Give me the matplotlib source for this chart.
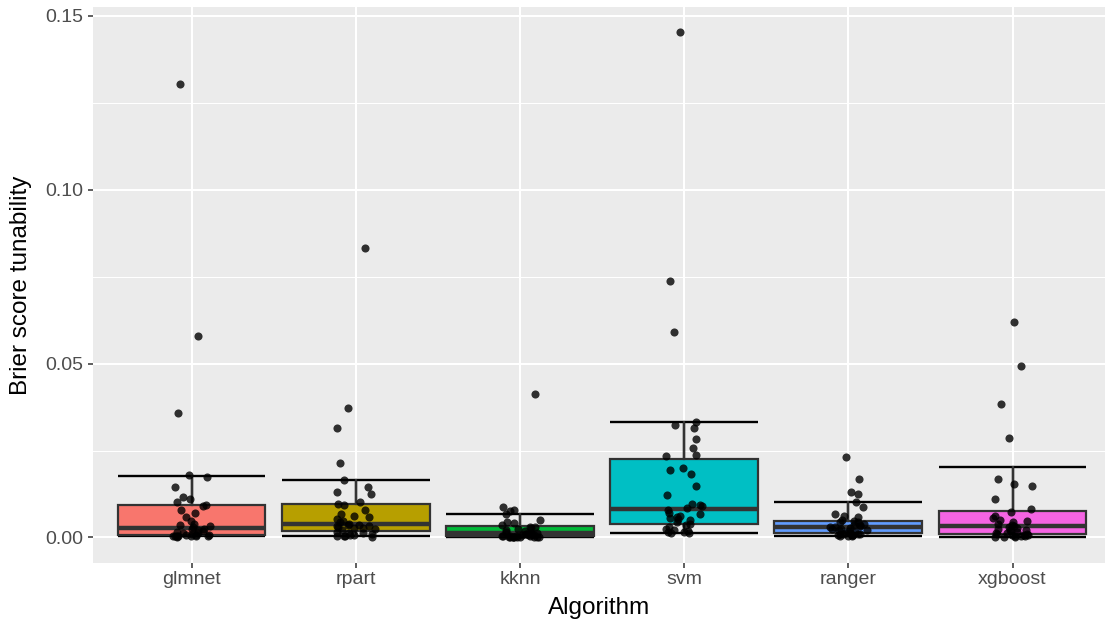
import numpy as np
import matplotlib
matplotlib.use("Agg")
import matplotlib.pyplot as plt

plt.rcParams["font.family"] = ["Liberation Sans", "DejaVu Sans"]

# ── Data ──────────────────────────────────────────────────────────────────────

algorithms = ["glmnet", "rpart", "kknn", "svm", "ranger", "xgboost"]
fills = ["#F8766D", "#B79F00", "#00BA38", "#00BFC4", "#619CFF", "#F564E3"]

# box statistics per algorithm
whis_lo = [0.0004, 0.0005, 0.0000, 0.0012, 0.0004, 0.0001]
q1      = [0.0008, 0.0018, 0.0004, 0.0040, 0.0013, 0.0011]
medians = [0.0027, 0.0038, 0.0012, 0.0083, 0.0031, 0.0033]
q3      = [0.0092, 0.0095, 0.0033, 0.0225, 0.0048, 0.0076]
whis_hi = [0.0178, 0.0166, 0.0068, 0.0331, 0.0102, 0.0204]

# per-dataset tunability values
glmnet_vals = [0.0002, 0.0003, 0.0003, 0.0004, 0.0004, 0.0005, 0.0005, 0.0005,
               0.0006, 0.0006, 0.0008, 0.0010, 0.0012, 0.0014, 0.0016, 0.0018,
               0.0021, 0.0023, 0.0025, 0.0029, 0.0033, 0.0036, 0.0040, 0.0048,
               0.0059, 0.0069, 0.0078, 0.0091, 0.0093, 0.0102, 0.0110, 0.0115,
               0.0145, 0.0175, 0.0179, 0.0358, 0.0580, 0.1304]
rpart_vals = [0.0002, 0.0003, 0.0004, 0.0005, 0.0006, 0.0008, 0.0010, 0.0012,
              0.0014, 0.0017, 0.0021, 0.0024, 0.0026, 0.0028, 0.0030, 0.0032,
              0.0034, 0.0036, 0.0037, 0.0040, 0.0043, 0.0048, 0.0052, 0.0058,
              0.0063, 0.0068, 0.0078, 0.0094, 0.0095, 0.0102, 0.0124, 0.0131,
              0.0145, 0.0166, 0.0214, 0.0316, 0.0373, 0.0833]
kknn_vals = [0.0000, 0.0000, 0.0001, 0.0001, 0.0001, 0.0001, 0.0002, 0.0002,
             0.0002, 0.0002, 0.0003, 0.0003, 0.0004, 0.0004, 0.0005, 0.0006,
             0.0007, 0.0008, 0.0009, 0.0011, 0.0012, 0.0014, 0.0016, 0.0018,
             0.0020, 0.0023, 0.0026, 0.0030, 0.0031, 0.0035, 0.0041, 0.0045,
             0.0049, 0.0068, 0.0076, 0.0079, 0.0088, 0.0413]
svm_vals = [0.0012, 0.0013, 0.0015, 0.0017, 0.0019, 0.0022, 0.0025, 0.0030,
            0.0035, 0.0039, 0.0043, 0.0049, 0.0053, 0.0056, 0.0060, 0.0063,
            0.0066, 0.0070, 0.0080, 0.0086, 0.0090, 0.0092, 0.0095, 0.0121,
            0.0148, 0.0181, 0.0193, 0.0200, 0.0235, 0.0236, 0.0256, 0.0283,
            0.0315, 0.0323, 0.0331, 0.0592, 0.0739, 0.1453]
ranger_vals = [0.0003, 0.0004, 0.0005, 0.0006, 0.0007, 0.0008, 0.0009, 0.0010,
               0.0010, 0.0011, 0.0012, 0.0014, 0.0016, 0.0018, 0.0020, 0.0021,
               0.0023, 0.0025, 0.0027, 0.0029, 0.0031, 0.0033, 0.0035, 0.0037,
               0.0040, 0.0043, 0.0045, 0.0048, 0.0050, 0.0058, 0.0063, 0.0068,
               0.0087, 0.0102, 0.0126, 0.0131, 0.0169, 0.0232]
xgboost_vals = [0.0001, 0.0002, 0.0003, 0.0004, 0.0005, 0.0006, 0.0007, 0.0008,
                0.0009, 0.0010, 0.0012, 0.0014, 0.0016, 0.0018, 0.0020, 0.0022,
                0.0025, 0.0028, 0.0030, 0.0034, 0.0037, 0.0040, 0.0044, 0.0046,
                0.0049, 0.0055, 0.0063, 0.0073, 0.0083, 0.0110, 0.0147, 0.0155,
                0.0169, 0.0285, 0.0384, 0.0493, 0.0620, 0.0002]

values = [glmnet_vals, rpart_vals, kknn_vals, svm_vals, ranger_vals, xgboost_vals]

y_ticks = [0.00, 0.05, 0.10, 0.15]
y_minor = [0.025, 0.075, 0.125]

# ── Figure ────────────────────────────────────────────────────────────────────

GREY20 = "#333333"
GREY30 = "#4D4D4D"
PANEL = "#EBEBEB"

fig = plt.figure(figsize=(11.05, 6.25), dpi=100)
ax = fig.add_axes([93 / 1105, 62.3 / 625, 1012 / 1105, 555.7 / 625])
ax.set_facecolor(PANEL)
for s in ax.spines.values():
    s.set_visible(False)

pos = np.arange(1, len(algorithms) + 1)
width = 0.9

# grid
for y in y_minor:
    ax.axhline(y, color="white", lw=0.75, zorder=0)
for y in y_ticks:
    ax.axhline(y, color="white", lw=1.5, zorder=0)
for x in pos:
    ax.axvline(x, color="white", lw=1.5, zorder=0)

# errorbar-style whiskers (black), drawn under the boxes
ax.vlines(pos, whis_lo, whis_hi, color="black", lw=1.7, zorder=1)
ax.hlines(whis_lo, pos - width / 2, pos + width / 2, color="black", lw=1.7, zorder=1)
ax.hlines(whis_hi, pos - width / 2, pos + width / 2, color="black", lw=1.7, zorder=1)

stats = [
    dict(whislo=whis_lo[i], q1=q1[i], med=medians[i], q3=q3[i],
         whishi=whis_hi[i], fliers=[], label=algorithms[i])
    for i in range(len(algorithms))
]
bp = ax.bxp(stats, positions=pos, widths=width, patch_artist=True,
            showcaps=False, showfliers=False,
            boxprops=dict(edgecolor=GREY20, linewidth=1.6),
            whiskerprops=dict(color=GREY20, linewidth=1.6),
            medianprops=dict(color=GREY20, linewidth=3.2, solid_capstyle="butt"),
            zorder=2)
for patch, c in zip(bp["boxes"], fills):
    patch.set_facecolor(c)

# jittered points
rng = np.random.default_rng(11)
for p, vals in zip(pos, values):
    xs = p + rng.uniform(-0.12, 0.12, len(vals))
    ax.scatter(xs, vals, s=34, color="black", alpha=0.8, linewidths=0, zorder=3)

ax.set_xlim(0.4, 0.4 + 1012 / 164.2)
ax.set_ylim(-0.00727, 0.15257)
ax.set_xticks(pos)
ax.set_xticklabels(algorithms)
ax.set_yticks(y_ticks)
ax.set_yticklabels([f"{v:.2f}" for v in y_ticks])
ax.tick_params(axis="both", length=3.3, width=1.1, color=GREY20,
               labelcolor=GREY30, labelsize=14)
ax.tick_params(axis="y", pad=4)
ax.tick_params(axis="x", pad=3)

ax.set_xlabel("Algorithm", fontsize=17.5, color="black", labelpad=6)
ax.set_ylabel("Brier score tunability", fontsize=17.5, color="black", labelpad=9)

fig.savefig("out.png", dpi=100)
